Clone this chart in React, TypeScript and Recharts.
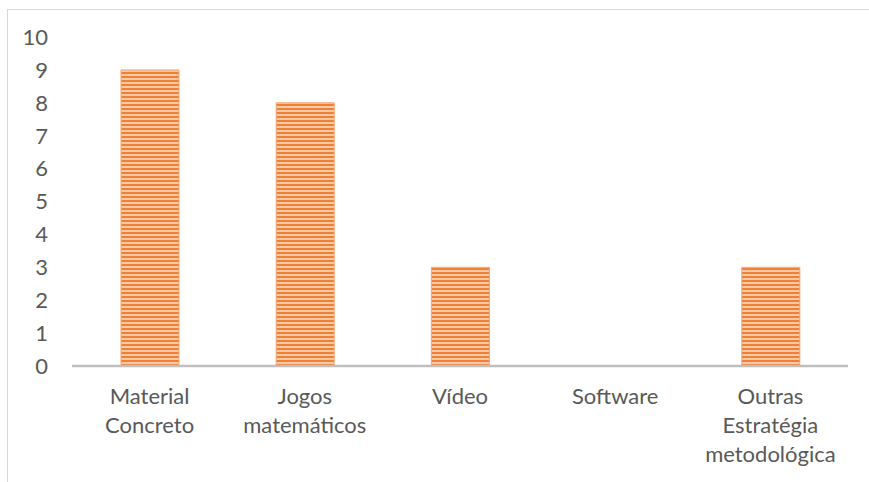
import { BarChart, Bar, XAxis, YAxis } from "recharts"

// Categories and values
const categories = ["Material Concreto", "Jogos matemáticos", "Vídeo", "Software", "Outras Estratégia metodológica"]
const counts = [9, 8, 3, 0, 3]
const yTicks = [0, 1, 2, 3, 4, 5, 6, 7, 8, 9, 10]

const data = categories.map((name, i) => ({ name, value: counts[i] }))

const FONT = "Lato, 'Open Sans', sans-serif"
const TEXT = "#595959"

// Multi-word categories wrap one word per line, like the original
function CategoryTick(props: any) {
  const { x, y, payload } = props
  const lines = String(payload.value).split(" ")
  return (
    <text x={x} y={y + 38} textAnchor="middle" fill={TEXT} fontSize={22} fontFamily={FONT}>
      {lines.map((line, i) => (
        <tspan key={i} x={x} dy={i === 0 ? 0 : 29}>
          {line}
        </tspan>
      ))}
    </text>
  )
}

export default function App() {
  return (
    <div style={{ position: "absolute", left: 0, top: 0, width: 869, height: 482, overflow: "hidden", background: "#fff" }}>
      <div style={{ position: "absolute", left: 7, top: 9, width: 900, height: 520, border: "1px solid #d9d9d9" }} />
      <div style={{ position: "absolute", left: 0, top: 0 }}>
        <BarChart width={869} height={482} data={data} margin={{ top: 37, right: 21, bottom: 0, left: 0 }} barSize={58}>
          <defs>
            <pattern id="stripes" width={4} height={4} patternUnits="userSpaceOnUse">
              <rect x={0} y={0} width={4} height={4} fill="#f9c9a6" />
              <rect x={0} y={0} width={4} height={2} fill="#ef8136" />
            </pattern>
          </defs>
          <YAxis
            ticks={yTicks}
            domain={[0, 10]}
            interval={0}
            width={72}
            axisLine={false}
            tickLine={false}
            tickSize={0}
            tickMargin={24}
            tick={{ fill: TEXT, fontSize: 22, fontFamily: FONT }}
          />
          <XAxis
            dataKey="name"
            height={116}
            interval={0}
            axisLine={{ stroke: "#bfbfbf", strokeWidth: 2.5 }}
            tickLine={false}
            tickSize={0}
            tickMargin={0}
            tick={<CategoryTick />}
          />
          <Bar dataKey="value" fill="url(#stripes)" stroke="#f4a46e" strokeWidth={1} isAnimationActive={false} />
        </BarChart>
      </div>
    </div>
  )
}
